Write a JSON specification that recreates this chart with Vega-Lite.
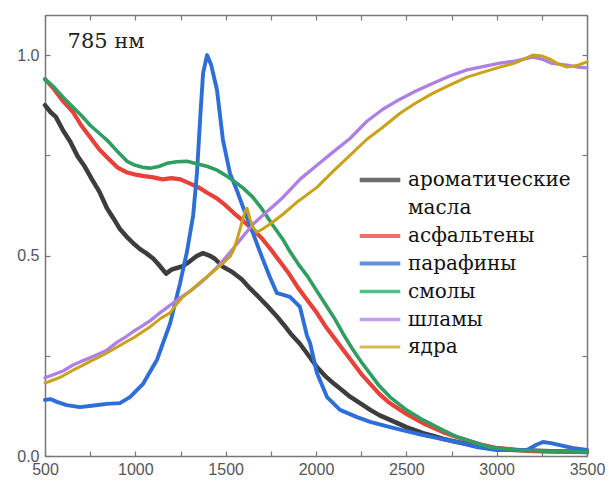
{
  "$schema": "https://vega.github.io/schema/vega-lite/v6.json",
  "width": 542,
  "height": 441,
  "autosize": {"type": "none"},
  "padding": {"left": 45, "top": 15, "right": 26, "bottom": 26},
  "background": "white",
  "config": {
    "view": {"stroke": null},
    "axis": {
      "grid": false,
      "domainColor": "#777777",
      "domainWidth": 1.5,
      "tickColor": "#777777",
      "tickWidth": 1.2,
      "tickSize": -5,
      "labelFont": "Liberation Sans",
      "labelFontSize": 16,
      "labelColor": "#555555",
      "title": null
    },
    "legend": {
      "labelFont": "DejaVu Serif",
      "labelFontSize": 20,
      "labelColor": "#111111"
    }
  },
  "data": {
    "values": [
      {"s": "ароматические масла", "x": 500, "y": 0.875},
      {"s": "ароматические масла", "x": 530, "y": 0.858},
      {"s": "ароматические масла", "x": 560, "y": 0.846},
      {"s": "ароматические масла", "x": 600, "y": 0.812},
      {"s": "ароматические масла", "x": 640, "y": 0.784},
      {"s": "ароматические масла", "x": 680, "y": 0.748},
      {"s": "ароматические масла", "x": 720, "y": 0.722},
      {"s": "ароматические масла", "x": 760, "y": 0.69},
      {"s": "ароматические масла", "x": 800, "y": 0.66},
      {"s": "ароматические масла", "x": 843, "y": 0.618},
      {"s": "ароматические масла", "x": 880, "y": 0.592},
      {"s": "ароматические масла", "x": 915, "y": 0.566},
      {"s": "ароматические масла", "x": 950, "y": 0.548},
      {"s": "ароматические масла", "x": 990, "y": 0.53},
      {"s": "ароматические масла", "x": 1026, "y": 0.516},
      {"s": "ароматические масла", "x": 1060, "y": 0.506},
      {"s": "ароматические масла", "x": 1100, "y": 0.492},
      {"s": "ароматические масла", "x": 1130, "y": 0.477},
      {"s": "ароматические масла", "x": 1170, "y": 0.455},
      {"s": "ароматические масла", "x": 1200, "y": 0.465},
      {"s": "ароматические масла", "x": 1230, "y": 0.469},
      {"s": "ароматические масла", "x": 1260, "y": 0.473},
      {"s": "ароматические масла", "x": 1300, "y": 0.485},
      {"s": "ароматические масла", "x": 1340, "y": 0.499},
      {"s": "ароматические масла", "x": 1375, "y": 0.506},
      {"s": "ароматические масла", "x": 1410, "y": 0.5},
      {"s": "ароматические масла", "x": 1440, "y": 0.492},
      {"s": "ароматические масла", "x": 1485, "y": 0.472},
      {"s": "ароматические масла", "x": 1540, "y": 0.458},
      {"s": "ароматические масла", "x": 1590, "y": 0.44},
      {"s": "ароматические масла", "x": 1635, "y": 0.418},
      {"s": "ароматические масла", "x": 1680, "y": 0.398},
      {"s": "ароматические масла", "x": 1729, "y": 0.375},
      {"s": "ароматические масла", "x": 1780, "y": 0.35},
      {"s": "ароматические масла", "x": 1817, "y": 0.33},
      {"s": "ароматические масла", "x": 1860, "y": 0.305},
      {"s": "ароматические масла", "x": 1911, "y": 0.28},
      {"s": "ароматические масла", "x": 1960, "y": 0.25},
      {"s": "ароматические масла", "x": 2005, "y": 0.222},
      {"s": "ароматические масла", "x": 2050, "y": 0.2},
      {"s": "ароматические масла", "x": 2100, "y": 0.18},
      {"s": "ароматические масла", "x": 2150, "y": 0.162},
      {"s": "ароматические масла", "x": 2188, "y": 0.148},
      {"s": "ароматические масла", "x": 2250, "y": 0.13},
      {"s": "ароматические масла", "x": 2300, "y": 0.115},
      {"s": "ароматические масла", "x": 2350, "y": 0.102},
      {"s": "ароматические масла", "x": 2410, "y": 0.09},
      {"s": "ароматические масла", "x": 2460, "y": 0.08},
      {"s": "ароматические масла", "x": 2500, "y": 0.072},
      {"s": "ароматические масла", "x": 2550, "y": 0.064},
      {"s": "ароматические масла", "x": 2592, "y": 0.057},
      {"s": "ароматические масла", "x": 2650, "y": 0.05},
      {"s": "ароматические масла", "x": 2700, "y": 0.043},
      {"s": "ароматические масла", "x": 2780, "y": 0.035},
      {"s": "ароматические масла", "x": 2870, "y": 0.027},
      {"s": "ароматические масла", "x": 2963, "y": 0.02},
      {"s": "ароматические масла", "x": 3100, "y": 0.015},
      {"s": "ароматические масла", "x": 3300, "y": 0.012},
      {"s": "ароматические масла", "x": 3500, "y": 0.01},

      {"s": "асфальтены", "x": 500, "y": 0.94},
      {"s": "асфальтены", "x": 550, "y": 0.915},
      {"s": "асфальтены", "x": 600, "y": 0.885},
      {"s": "асфальтены", "x": 655, "y": 0.858},
      {"s": "асфальтены", "x": 700, "y": 0.825},
      {"s": "асфальтены", "x": 750, "y": 0.795},
      {"s": "асфальтены", "x": 800, "y": 0.765},
      {"s": "асфальтены", "x": 843, "y": 0.745},
      {"s": "асфальтены", "x": 900, "y": 0.72},
      {"s": "асфальтены", "x": 950, "y": 0.708},
      {"s": "асфальтены", "x": 1000, "y": 0.702},
      {"s": "асфальтены", "x": 1050, "y": 0.698},
      {"s": "асфальтены", "x": 1100, "y": 0.695},
      {"s": "асфальтены", "x": 1150, "y": 0.69},
      {"s": "асфальтены", "x": 1200, "y": 0.693},
      {"s": "асфальтены", "x": 1250, "y": 0.69},
      {"s": "асфальтены", "x": 1300, "y": 0.68},
      {"s": "асфальтены", "x": 1350, "y": 0.67},
      {"s": "асфальтены", "x": 1400, "y": 0.656},
      {"s": "асфальтены", "x": 1450, "y": 0.643},
      {"s": "асфальтены", "x": 1500, "y": 0.625},
      {"s": "асфальтены", "x": 1560, "y": 0.6},
      {"s": "асфальтены", "x": 1600, "y": 0.585},
      {"s": "асфальтены", "x": 1650, "y": 0.565},
      {"s": "асфальтены", "x": 1700, "y": 0.543},
      {"s": "асфальтены", "x": 1750, "y": 0.515},
      {"s": "асфальтены", "x": 1800, "y": 0.485},
      {"s": "асфальтены", "x": 1850, "y": 0.455},
      {"s": "асфальтены", "x": 1900, "y": 0.42},
      {"s": "асфальтены", "x": 1950, "y": 0.39},
      {"s": "асфальтены", "x": 2000, "y": 0.36},
      {"s": "асфальтены", "x": 2050, "y": 0.325},
      {"s": "асфальтены", "x": 2100, "y": 0.295},
      {"s": "асфальтены", "x": 2150, "y": 0.265},
      {"s": "асфальтены", "x": 2200, "y": 0.235},
      {"s": "асфальтены", "x": 2250, "y": 0.205},
      {"s": "асфальтены", "x": 2300, "y": 0.18},
      {"s": "асфальтены", "x": 2350, "y": 0.155},
      {"s": "асфальтены", "x": 2400, "y": 0.135},
      {"s": "асфальтены", "x": 2450, "y": 0.12},
      {"s": "асфальтены", "x": 2500, "y": 0.105},
      {"s": "асфальтены", "x": 2600, "y": 0.08},
      {"s": "асфальтены", "x": 2700, "y": 0.06},
      {"s": "асфальтены", "x": 2800, "y": 0.044},
      {"s": "асфальтены", "x": 2900, "y": 0.03},
      {"s": "асфальтены", "x": 3000, "y": 0.02},
      {"s": "асфальтены", "x": 3200, "y": 0.012},
      {"s": "асфальтены", "x": 3500, "y": 0.01},

      {"s": "парафины", "x": 500, "y": 0.14},
      {"s": "парафины", "x": 530, "y": 0.142},
      {"s": "парафины", "x": 566, "y": 0.135},
      {"s": "парафины", "x": 620, "y": 0.127},
      {"s": "парафины", "x": 694, "y": 0.122},
      {"s": "парафины", "x": 770, "y": 0.126},
      {"s": "парафины", "x": 843, "y": 0.13},
      {"s": "парафины", "x": 915, "y": 0.132},
      {"s": "парафины", "x": 970, "y": 0.147},
      {"s": "парафины", "x": 1043, "y": 0.18},
      {"s": "парафины", "x": 1120, "y": 0.24},
      {"s": "парафины", "x": 1192, "y": 0.33},
      {"s": "парафины", "x": 1247, "y": 0.43},
      {"s": "парафины", "x": 1286, "y": 0.51},
      {"s": "парафины", "x": 1320, "y": 0.6},
      {"s": "парафины", "x": 1341, "y": 0.705},
      {"s": "парафины", "x": 1360, "y": 0.85},
      {"s": "парафины", "x": 1375, "y": 0.955},
      {"s": "парафины", "x": 1397, "y": 1.0},
      {"s": "парафины", "x": 1420, "y": 0.975},
      {"s": "парафины", "x": 1452, "y": 0.913},
      {"s": "парафины", "x": 1485, "y": 0.788},
      {"s": "парафины", "x": 1524, "y": 0.705},
      {"s": "парафины", "x": 1560, "y": 0.665},
      {"s": "парафины", "x": 1596, "y": 0.621},
      {"s": "парафины", "x": 1651, "y": 0.556},
      {"s": "парафины", "x": 1701, "y": 0.496},
      {"s": "парафины", "x": 1745, "y": 0.446},
      {"s": "парафины", "x": 1784, "y": 0.406},
      {"s": "парафины", "x": 1820, "y": 0.402},
      {"s": "парафины", "x": 1856, "y": 0.397},
      {"s": "парафины", "x": 1911, "y": 0.372},
      {"s": "парафины", "x": 1950, "y": 0.3},
      {"s": "парафины", "x": 1967, "y": 0.282},
      {"s": "парафины", "x": 2005, "y": 0.207},
      {"s": "парафины", "x": 2061, "y": 0.147},
      {"s": "парафины", "x": 2133, "y": 0.115},
      {"s": "парафины", "x": 2227, "y": 0.097},
      {"s": "парафины", "x": 2300, "y": 0.085},
      {"s": "парафины", "x": 2410, "y": 0.072},
      {"s": "парафины", "x": 2500, "y": 0.062},
      {"s": "парафины", "x": 2592, "y": 0.052},
      {"s": "парафины", "x": 2700, "y": 0.042},
      {"s": "парафины", "x": 2780, "y": 0.035},
      {"s": "парафины", "x": 2890, "y": 0.022},
      {"s": "парафины", "x": 3000, "y": 0.015},
      {"s": "парафины", "x": 3168, "y": 0.015},
      {"s": "парафины", "x": 3220, "y": 0.028},
      {"s": "парафины", "x": 3256, "y": 0.035},
      {"s": "парафины", "x": 3300, "y": 0.032},
      {"s": "парафины", "x": 3350, "y": 0.027},
      {"s": "парафины", "x": 3420, "y": 0.02},
      {"s": "парафины", "x": 3500, "y": 0.015},

      {"s": "смолы", "x": 500, "y": 0.94},
      {"s": "смолы", "x": 550, "y": 0.92},
      {"s": "смолы", "x": 600, "y": 0.895},
      {"s": "смолы", "x": 655, "y": 0.87},
      {"s": "смолы", "x": 700, "y": 0.85},
      {"s": "смолы", "x": 750, "y": 0.825},
      {"s": "смолы", "x": 800, "y": 0.805},
      {"s": "смолы", "x": 843, "y": 0.788},
      {"s": "смолы", "x": 900, "y": 0.76},
      {"s": "смолы", "x": 954, "y": 0.735},
      {"s": "смолы", "x": 1000, "y": 0.725},
      {"s": "смолы", "x": 1040, "y": 0.72},
      {"s": "смолы", "x": 1081, "y": 0.718},
      {"s": "смолы", "x": 1130, "y": 0.722},
      {"s": "смолы", "x": 1175, "y": 0.73},
      {"s": "смолы", "x": 1230, "y": 0.734},
      {"s": "смолы", "x": 1286, "y": 0.735},
      {"s": "смолы", "x": 1350, "y": 0.728},
      {"s": "смолы", "x": 1400, "y": 0.722},
      {"s": "смолы", "x": 1452, "y": 0.713},
      {"s": "смолы", "x": 1500, "y": 0.7},
      {"s": "смолы", "x": 1563, "y": 0.68},
      {"s": "смолы", "x": 1600, "y": 0.667},
      {"s": "смолы", "x": 1651, "y": 0.645},
      {"s": "смолы", "x": 1700, "y": 0.617},
      {"s": "смолы", "x": 1762, "y": 0.575},
      {"s": "смолы", "x": 1817, "y": 0.54},
      {"s": "смолы", "x": 1856, "y": 0.51},
      {"s": "смолы", "x": 1900, "y": 0.48},
      {"s": "смолы", "x": 1950, "y": 0.45},
      {"s": "смолы", "x": 2000, "y": 0.415},
      {"s": "смолы", "x": 2050, "y": 0.38},
      {"s": "смолы", "x": 2100, "y": 0.345},
      {"s": "смолы", "x": 2150, "y": 0.305},
      {"s": "смолы", "x": 2200, "y": 0.268},
      {"s": "смолы", "x": 2250, "y": 0.235},
      {"s": "смолы", "x": 2300, "y": 0.205},
      {"s": "смолы", "x": 2350, "y": 0.175},
      {"s": "смолы", "x": 2410, "y": 0.147},
      {"s": "смолы", "x": 2500, "y": 0.115},
      {"s": "смолы", "x": 2592, "y": 0.09},
      {"s": "смолы", "x": 2700, "y": 0.065},
      {"s": "смолы", "x": 2780, "y": 0.048},
      {"s": "смолы", "x": 2870, "y": 0.035},
      {"s": "смолы", "x": 2963, "y": 0.022},
      {"s": "смолы", "x": 3100, "y": 0.015},
      {"s": "смолы", "x": 3300, "y": 0.012},
      {"s": "смолы", "x": 3500, "y": 0.01},

      {"s": "шламы", "x": 500, "y": 0.195},
      {"s": "шламы", "x": 560, "y": 0.205},
      {"s": "шламы", "x": 600, "y": 0.212},
      {"s": "шламы", "x": 655, "y": 0.227},
      {"s": "шламы", "x": 700, "y": 0.236},
      {"s": "шламы", "x": 750, "y": 0.245},
      {"s": "шламы", "x": 800, "y": 0.255},
      {"s": "шламы", "x": 843, "y": 0.264},
      {"s": "шламы", "x": 900, "y": 0.284},
      {"s": "шламы", "x": 950, "y": 0.298},
      {"s": "шламы", "x": 987, "y": 0.31},
      {"s": "шламы", "x": 1030, "y": 0.322},
      {"s": "шламы", "x": 1081, "y": 0.337},
      {"s": "шламы", "x": 1130, "y": 0.355},
      {"s": "шламы", "x": 1181, "y": 0.372},
      {"s": "шламы", "x": 1192, "y": 0.376},
      {"s": "шламы", "x": 1250, "y": 0.395},
      {"s": "шламы", "x": 1300, "y": 0.41},
      {"s": "шламы", "x": 1350, "y": 0.428},
      {"s": "шламы", "x": 1400, "y": 0.448},
      {"s": "шламы", "x": 1450, "y": 0.47},
      {"s": "шламы", "x": 1500, "y": 0.495},
      {"s": "шламы", "x": 1550, "y": 0.522},
      {"s": "шламы", "x": 1600, "y": 0.55},
      {"s": "шламы", "x": 1651, "y": 0.578},
      {"s": "шламы", "x": 1700, "y": 0.598},
      {"s": "шламы", "x": 1750, "y": 0.618},
      {"s": "шламы", "x": 1817, "y": 0.645},
      {"s": "шламы", "x": 1911, "y": 0.69},
      {"s": "шламы", "x": 2005, "y": 0.725},
      {"s": "шламы", "x": 2094, "y": 0.758},
      {"s": "шламы", "x": 2188, "y": 0.792},
      {"s": "шламы", "x": 2282, "y": 0.835},
      {"s": "шламы", "x": 2370, "y": 0.865},
      {"s": "шламы", "x": 2465, "y": 0.89},
      {"s": "шламы", "x": 2550, "y": 0.91},
      {"s": "шламы", "x": 2648, "y": 0.93},
      {"s": "шламы", "x": 2740, "y": 0.948},
      {"s": "шламы", "x": 2836, "y": 0.963},
      {"s": "шламы", "x": 2930, "y": 0.972},
      {"s": "шламы", "x": 3018, "y": 0.98},
      {"s": "шламы", "x": 3100, "y": 0.985},
      {"s": "шламы", "x": 3200, "y": 0.995},
      {"s": "шламы", "x": 3250, "y": 0.99},
      {"s": "шламы", "x": 3300, "y": 0.98},
      {"s": "шламы", "x": 3390, "y": 0.975},
      {"s": "шламы", "x": 3450, "y": 0.97},
      {"s": "шламы", "x": 3500, "y": 0.968},

      {"s": "ядра", "x": 500, "y": 0.182},
      {"s": "ядра", "x": 560, "y": 0.192},
      {"s": "ядра", "x": 600, "y": 0.2},
      {"s": "ядра", "x": 655, "y": 0.214},
      {"s": "ядра", "x": 700, "y": 0.224},
      {"s": "ядра", "x": 750, "y": 0.236},
      {"s": "ядра", "x": 800, "y": 0.247},
      {"s": "ядра", "x": 843, "y": 0.257},
      {"s": "ядра", "x": 900, "y": 0.272},
      {"s": "ядра", "x": 950, "y": 0.285},
      {"s": "ядра", "x": 987, "y": 0.294},
      {"s": "ядра", "x": 1040, "y": 0.31},
      {"s": "ядра", "x": 1081, "y": 0.322},
      {"s": "ядра", "x": 1142, "y": 0.344},
      {"s": "ядра", "x": 1192, "y": 0.357},
      {"s": "ядра", "x": 1230, "y": 0.38},
      {"s": "ядра", "x": 1264, "y": 0.397},
      {"s": "ядра", "x": 1300, "y": 0.41},
      {"s": "ядра", "x": 1358, "y": 0.433},
      {"s": "ядра", "x": 1400, "y": 0.448},
      {"s": "ядра", "x": 1452, "y": 0.468},
      {"s": "ядра", "x": 1500, "y": 0.487},
      {"s": "ядра", "x": 1524, "y": 0.497},
      {"s": "ядра", "x": 1545, "y": 0.515},
      {"s": "ядра", "x": 1563, "y": 0.54},
      {"s": "ядра", "x": 1585, "y": 0.575},
      {"s": "ядра", "x": 1607, "y": 0.61},
      {"s": "ядра", "x": 1618, "y": 0.618},
      {"s": "ядра", "x": 1635, "y": 0.59},
      {"s": "ядра", "x": 1655, "y": 0.568},
      {"s": "ядра", "x": 1673, "y": 0.558},
      {"s": "ядра", "x": 1700, "y": 0.565},
      {"s": "ядра", "x": 1745, "y": 0.578},
      {"s": "ядра", "x": 1817, "y": 0.603},
      {"s": "ядра", "x": 1900, "y": 0.635},
      {"s": "ядра", "x": 1960, "y": 0.655},
      {"s": "ядра", "x": 2005, "y": 0.67},
      {"s": "ядра", "x": 2094, "y": 0.71},
      {"s": "ядра", "x": 2188, "y": 0.75},
      {"s": "ядра", "x": 2282, "y": 0.79},
      {"s": "ядра", "x": 2370, "y": 0.82},
      {"s": "ядра", "x": 2465, "y": 0.855},
      {"s": "ядра", "x": 2550, "y": 0.88},
      {"s": "ядра", "x": 2648, "y": 0.905},
      {"s": "ядра", "x": 2740, "y": 0.925},
      {"s": "ядра", "x": 2836, "y": 0.945},
      {"s": "ядра", "x": 2930, "y": 0.958},
      {"s": "ядра", "x": 3018, "y": 0.97},
      {"s": "ядра", "x": 3100, "y": 0.98},
      {"s": "ядра", "x": 3200, "y": 1.0},
      {"s": "ядра", "x": 3250, "y": 0.998},
      {"s": "ядра", "x": 3294, "y": 0.99},
      {"s": "ядра", "x": 3340, "y": 0.978},
      {"s": "ядра", "x": 3390, "y": 0.97},
      {"s": "ядра", "x": 3450, "y": 0.975},
      {"s": "ядра", "x": 3500, "y": 0.983}
    ]
  },
  "layer": [
    {
      "mark": {"type": "line", "strokeJoin": "round", "strokeCap": "round"},
      "encoding": {
        "x": {
          "field": "x",
          "type": "quantitative",
          "scale": {"domain": [500, 3500], "nice": false, "zero": false},
          "axis": {
            "orient": "bottom",
            "values": [500, 750, 1000, 1250, 1500, 1750, 2000, 2250, 2500, 2750, 3000, 3250, 3500],
            "format": "d",
            "labelExpr": "datum.value % 500 === 0 ? datum.label : ''",
            "labelPadding": 10,
            "labelFlush": false
          }
        },
        "y": {
          "field": "y",
          "type": "quantitative",
          "scale": {"domain": [0, 1.1], "nice": false},
          "axis": {
            "orient": "left",
            "values": [0, 0.25, 0.5, 0.75, 1.0],
            "format": ".1f",
            "labelExpr": "datum.value % 0.5 === 0 ? datum.label : ''",
            "labelPadding": 11
          }
        },
        "color": {
          "field": "s",
          "type": "nominal",
          "sort": null,
          "scale": {
            "domain": ["ароматические масла", "асфальтены", "парафины", "смолы", "шламы", "ядра"],
            "range": ["#3d3d3d", "#e8413a", "#2d6ed8", "#2f9e60", "#ad80e6", "#c9a21a"]
          },
          "legend": {
            "orient": "none",
            "legendX": 318,
            "legendY": 148,
            "title": null,
            "symbolType": "M-1.4,0H1.4",
            "symbolSize": 841,
            "symbolStrokeWidth": 3,
            "symbolOpacity": 0.75,
            "labelFont": "DejaVu Serif",
            "labelFontSize": 20,
            "labelColor": "#111111",
            "labelOffset": 11,
            "labelLimit": 400,
            "rowPadding": 1,
            "labelExpr": "datum.label === 'ароматические масла' ? ['ароматические', 'масла'] : datum.label",
            "encode": {
              "labels": {
                "update": {
                  "font": {"value": "DejaVu Serif"},
                  "lineHeight": {"value": 28}
                }
              }
            }
          }
        },
        "strokeWidth": {
          "field": "s",
          "type": "nominal",
          "scale": {
            "domain": ["ароматические масла", "асфальтены", "парафины", "смолы", "шламы", "ядра"],
            "range": [4.5, 3, 2.6, 2.6, 2.6, 3.2]
          },
          "legend": null
        }
      }
    },
    {
      "data": {"values": [{"label": "785 нм"}]},
      "mark": {"type": "text", "font": "DejaVu Serif", "fontSize": 21, "color": "#222222", "align": "left", "baseline": "middle"},
      "encoding": {
        "text": {"field": "label", "type": "nominal"},
        "x": {
          "datum": 625,
          "type": "quantitative",
          "axis": {
            "orient": "top",
            "values": [500, 750, 1000, 1250, 1500, 1750, 2000, 2250, 2500, 2750, 3000, 3250, 3500],
            "labels": false,
            "title": null
          }
        },
        "y": {
          "datum": 1.033,
          "type": "quantitative",
          "axis": {
            "orient": "right",
            "values": [0, 0.25, 0.5, 0.75, 1.0],
            "labels": false,
            "title": null
          }
        }
      }
    }
  ],
  "resolve": {"axis": {"x": "independent", "y": "independent"}}
}
